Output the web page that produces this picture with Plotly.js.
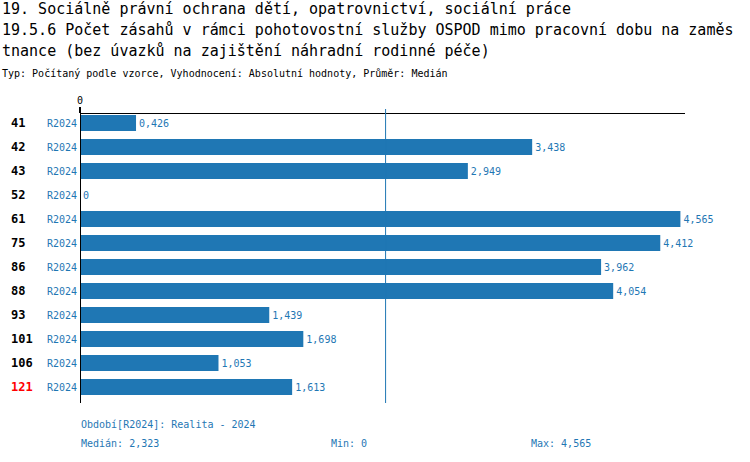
<!DOCTYPE html>
<html>
<head>
<meta charset="utf-8">
<script src="https://cdn.plot.ly/plotly-3.0.1.min.js"></script>
<style>html,body{margin:0;padding:0;background:#fff;}#chart{width:750px;height:462px;}</style>
</head>
<body>
<div id="chart"></div>
<script>
// ---- data ----
const districts = ['41','42','43','52','61','75','86','88','93','101','106','121'];
const periods = ['R2024','R2024','R2024','R2024','R2024','R2024','R2024','R2024','R2024','R2024','R2024','R2024'];
const values = [0.426, 3.438, 2.949, 0, 4.565, 4.412, 3.962, 4.054, 1.439, 1.698, 1.053, 1.613];
const highlighted = ['121'];
const titleLines = [
  '19. Sociálně právní ochrana dětí, opatrovnictví, sociální práce',
  '19.5.6 Počet zásahů v rámci pohotovostní služby OSPOD mimo pracovní dobu na zaměs',
  'tnance (bez úvazků na zajištění náhradní rodinné péče)'
];
const subtitle = 'Typ: Počítaný podle vzorce, Vyhodnocení: Absolutní hodnoty, Průměr: Medián';
const periodNote = 'Období[R2024]: Realita - 2024';

// ---- helpers ----
const BLUE = '#1f77b4';
const MONO = 'DejaVu Sans Mono, Liberation Mono, monospace';
const W = 750, H = 462;
const M = {l: 80, r: 65, t: 114, b: 62};
const PW = W - M.l - M.r, PH = H - M.t - M.b;
const px = x => (x - M.l) / PW;
const py = y => (H - M.b - y) / PH;
const fmt = v => v === 0 ? '0' : (Math.floor(v * 1000 + 1e-9) / 1000).toFixed(3).replace('.', ',');

const sorted = values.slice().sort((a, b) => a - b);
const n = sorted.length;
const median = n % 2 ? sorted[(n - 1) / 2] : (sorted[n / 2 - 1] + sorted[n / 2]) / 2;
const vmin = sorted[0], vmax = sorted[n - 1];
const idx = districts.map((d, i) => i);

const trace = {
  type: 'bar',
  orientation: 'h',
  y: idx,
  x: values,
  marker: {color: BLUE},
  text: values.map(fmt),
  textposition: 'outside',
  cliponaxis: false,
  textfont: {family: MONO, size: 10, color: BLUE},
  hoverinfo: 'none'
};

const annotations = [];
titleLines.forEach((t, i) => {
  annotations.push({text: t, xref: 'paper', yref: 'paper', x: px(0), y: py([9, 30, 51][i]),
    xanchor: 'left', yanchor: 'middle', showarrow: false,
    font: {family: MONO, size: 15, color: '#000'}});
});
annotations.push({text: subtitle, xref: 'paper', yref: 'paper', x: px(0), y: py(73),
  xanchor: 'left', yanchor: 'middle', showarrow: false,
  font: {family: MONO, size: 10, color: '#000'}});
districts.forEach((d, i) => {
  annotations.push({text: '<b>' + d + '</b>', xref: 'paper', yref: 'paper', x: px(9),
    y: py(123 + 24 * i),
    xanchor: 'left', yanchor: 'middle', showarrow: false,
    font: {family: MONO, size: 12, color: highlighted.includes(d) ? '#ff0000' : '#000'}});
});
annotations.push({text: periodNote, xref: 'paper', yref: 'paper', x: px(79), y: py(424),
  xanchor: 'left', yanchor: 'middle', showarrow: false, font: {family: MONO, size: 10, color: BLUE}});
annotations.push({text: 'Medián: ' + fmt(median), xref: 'paper', yref: 'paper', x: px(79), y: py(444),
  xanchor: 'left', yanchor: 'middle', showarrow: false, font: {family: MONO, size: 10, color: BLUE}});
annotations.push({text: 'Min: ' + fmt(vmin), xref: 'paper', yref: 'paper', x: px(329), y: py(444),
  xanchor: 'left', yanchor: 'middle', showarrow: false, font: {family: MONO, size: 10, color: BLUE}});
annotations.push({text: 'Max: ' + fmt(vmax), xref: 'paper', yref: 'paper', x: px(529), y: py(444),
  xanchor: 'left', yanchor: 'middle', showarrow: false, font: {family: MONO, size: 10, color: BLUE}});

const layout = {
  width: W, height: H,
  margin: M,
  paper_bgcolor: '#fff', plot_bgcolor: '#fff',
  showlegend: false,
  bargap: 0.33,
  font: {family: MONO, size: 10},
  xaxis: {
    side: 'top', range: [0, 4.6], showgrid: false, zeroline: false,
    showline: true, linecolor: '#000', linewidth: 1,
    tickvals: [0], ticktext: ['0'], ticks: 'outside', ticklen: 6, tickwidth: 2, tickcolor: '#000',
    ticklabelstandoff: -1,
    tickfont: {family: MONO, size: 10, color: '#000'}, fixedrange: true
  },
  yaxis: {
    range: [11.54, -0.375], showgrid: false, zeroline: false, showline: false,
    tickvals: idx, ticktext: periods, ticks: '', ticklabelstandoff: 2,
    tickfont: {family: MONO, size: 10, color: BLUE}, fixedrange: true
  },
  shapes: [
    {type: 'line', xref: 'x', yref: 'paper', x0: 0, x1: 0, y0: -3 / PH, y1: 1, line: {color: '#000', width: 2}},
    {type: 'line', xref: 'x', yref: 'paper', x0: median, x1: median, y0: -3 / PH, y1: 1 + 5 / PH, line: {color: BLUE, width: 1}}
  ],
  annotations: annotations
};

Plotly.newPlot('chart', [trace], layout, {displayModeBar: false, staticPlot: true});
</script>
</body>
</html>
